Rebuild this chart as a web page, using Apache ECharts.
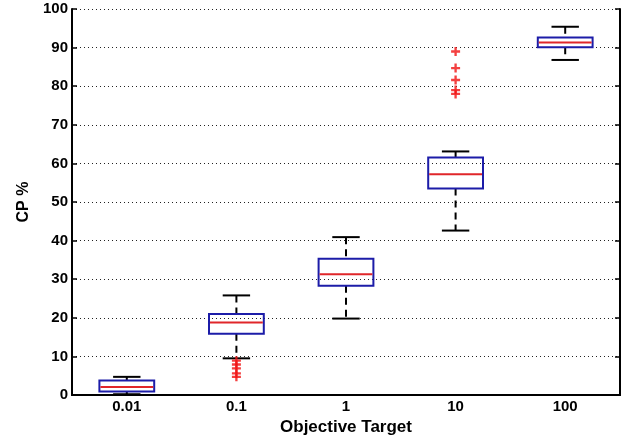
<!DOCTYPE html>
<html>
<head>
<meta charset="utf-8">
<script src="https://cdn.jsdelivr.net/npm/echarts@6/dist/echarts.min.js"></script>
<style>
  html, body { margin: 0; padding: 0; background: #fff; }
  #main { width: 628px; height: 438px; }
</style>
</head>
<body>
<div id="main"></div>
<script>
const categories = ['0.01', '0.1', '1', '10', '100'];
const whiskerLow = [0.2, 9.5, 19.8, 42.6, 86.8];
const q1 = [0.9, 15.9, 28.3, 53.5, 90.1];
const median = [2.1, 18.8, 31.3, 57.2, 91.3];
const q3 = [3.75, 21.0, 35.3, 61.5, 92.6];
const whiskerHigh = [4.7, 25.8, 40.9, 63.1, 95.4];
// outliers: category index + value
const outlierCat = [1, 1, 1, 1, 1, 3, 3, 3, 3, 3];
const outlierVal = [8.9, 7.9, 6.9, 5.6, 4.7, 89.0, 84.7, 81.6, 79.0, 78.0];
const yTicks = [0, 10, 20, 30, 40, 50, 60, 70, 80, 90, 100];

const boxData = categories.map((c, i) => [i, whiskerLow[i], q1[i], median[i], q3[i], whiskerHigh[i]]);
const outlierData = outlierCat.map((c, i) => [c, outlierVal[i]]);

const font = 'Liberation Sans, Arial, sans-serif';
const chart = echarts.init(document.getElementById('main'));

function renderBox(params, api) {
  const i = api.value(0);
  const bw = api.size([1, 0])[0] * 0.5;
  const p = [1, 2, 3, 4, 5].map(k => api.coord([i, api.value(k)]));
  const x = p[0][0];
  const yLo = p[0][1], yQ1 = p[1][1], yMed = p[2][1], yQ3 = p[3][1], yHi = p[4][1];
  const cap = bw / 4;
  const blue = '#1c1ca8', red = '#e0262a';
  return {
    type: 'group',
    children: [
      { type: 'line', shape: { x1: x, y1: yHi, x2: x, y2: yQ3 },
        style: { stroke: '#000', lineWidth: 2, lineDash: [7, 5] } },
      { type: 'line', shape: { x1: x, y1: yQ1, x2: x, y2: yLo },
        style: { stroke: '#000', lineWidth: 2, lineDash: [7, 5] } },
      { type: 'line', shape: { x1: x - cap, y1: yHi, x2: x + cap, y2: yHi },
        style: { stroke: '#000', lineWidth: 2 } },
      { type: 'line', shape: { x1: x - cap, y1: yLo, x2: x + cap, y2: yLo },
        style: { stroke: '#000', lineWidth: 2 } },
      { type: 'rect', shape: { x: x - bw / 2, y: yQ3, width: bw, height: yQ1 - yQ3 },
        style: { fill: 'none', stroke: blue, lineWidth: 2 } },
      { type: 'line', shape: { x1: x - bw / 2 + 1, y1: yMed, x2: x + bw / 2 - 1, y2: yMed },
        style: { stroke: red, lineWidth: 2 } }
    ]
  };
}

chart.setOption({
  animation: false,
  grid: { left: 72, right: 8, top: 9, bottom: 43, outerBoundsMode: 'none', containLabel: false },
  xAxis: [{
    type: 'category',
    data: categories,
    boundaryGap: true,
    name: 'Objective Target',
    nameLocation: 'middle',
    nameGap: 22,
    nameTextStyle: { color: '#000', fontSize: 17, fontWeight: 'bold', fontFamily: font },
    axisLine: { lineStyle: { color: '#000', width: 2 } },
    axisTick: { inside: true, alignWithLabel: true, length: 5, lineStyle: { color: '#000', width: 1.5 } },
    axisLabel: { color: '#000', fontSize: 15, fontWeight: 'bold', fontFamily: font, margin: 4 },
    splitLine: { show: false }
  }, {
    type: 'category',
    data: categories,
    position: 'top',
    boundaryGap: true,
    axisLine: { lineStyle: { color: '#000', width: 2 } },
    axisTick: { inside: true, alignWithLabel: true, length: 5, lineStyle: { color: '#000', width: 1.5 } },
    axisLabel: { show: false }
  }],
  yAxis: [{
    type: 'value',
    min: 0, max: 100, interval: 10,
    name: 'CP %',
    nameLocation: 'middle',
    nameGap: 40,
    nameTextStyle: { color: '#000', fontSize: 16, fontWeight: 'bold', fontFamily: font },
    axisLine: { show: true, lineStyle: { color: '#000', width: 2 } },
    axisTick: { show: true, inside: true, length: 5, lineStyle: { color: '#000', width: 1.5 } },
    axisLabel: { color: '#000', fontSize: 15, fontWeight: 'bold', fontFamily: font, margin: 4,
      formatter: v => yTicks.includes(v) ? String(v) : '' },
    splitLine: { show: true, lineStyle: { color: '#222', width: 1, type: [1, 3] } }
  }, {
    type: 'value',
    min: 0, max: 100, interval: 10,
    position: 'right',
    axisLine: { show: true, lineStyle: { color: '#000', width: 2 } },
    axisTick: { show: true, inside: true, length: 5, lineStyle: { color: '#000', width: 1.5 } },
    axisLabel: { show: false },
    splitLine: { show: false }
  }],
  series: [{
    type: 'custom',
    renderItem: renderBox,
    encode: { x: 0, y: [1, 2, 3, 4, 5] },
    data: boxData,
    z: 3
  }, {
    type: 'scatter',
    data: outlierData,
    symbol: 'path://M3.7,0h2.6v3.7h3.7v2.6h-3.7v3.7h-2.6v-3.7h-3.7v-2.6h3.7z',
    symbolSize: 9,
    itemStyle: { color: '#f01010' },
    z: 4
  }]
});
</script>
</body>
</html>
